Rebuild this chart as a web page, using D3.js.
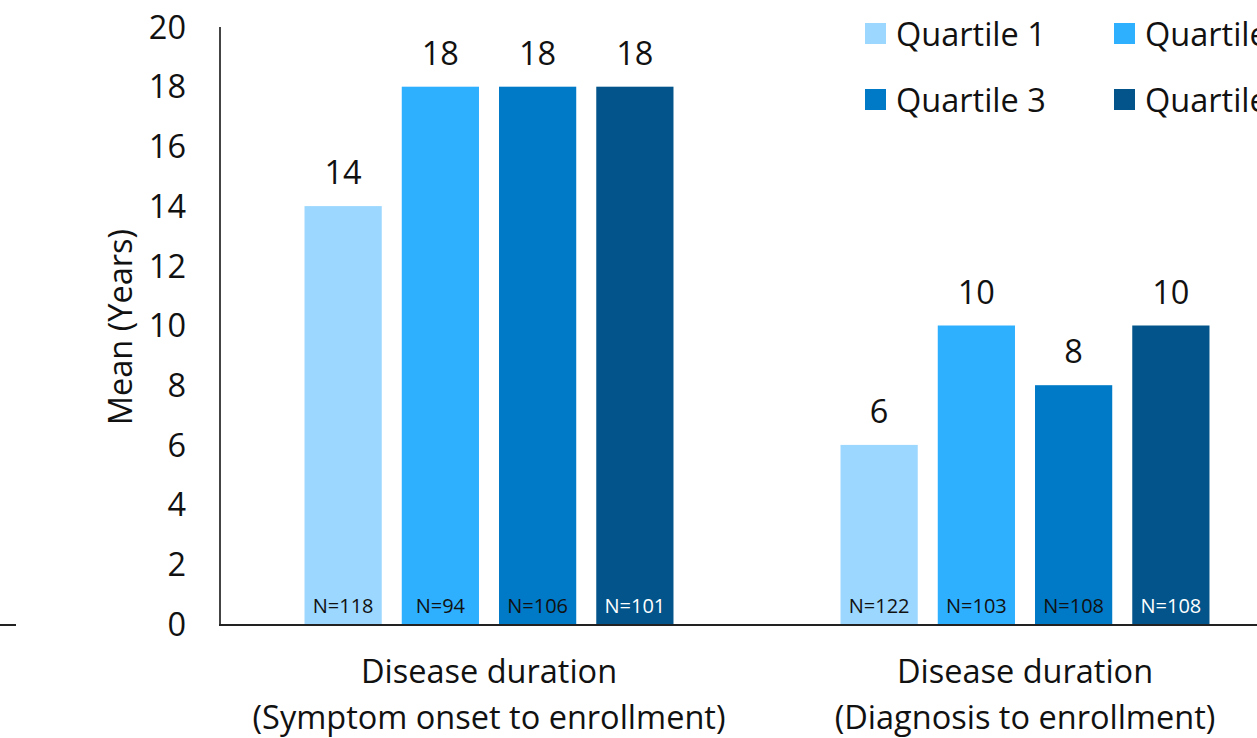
<!DOCTYPE html>
<html>
<head>
<meta charset="utf-8">
<script src="https://cdn.jsdelivr.net/npm/d3@7"></script>
<style>
  html, body { margin: 0; padding: 0; background: #fff; }
  svg { display: block; font-family: "Open Sans", sans-serif; font-variant-ligatures: none; }
</style>
</head>
<body>
<svg id="chart" width="1257" height="738"></svg>
<script>
// Mean disease duration by quartile
const categories = [
  ["Disease duration", "(Symptom onset to enrollment)"],
  ["Disease duration", "(Diagnosis to enrollment)"]
];
const series = ["Quartile 1", "Quartile 2", "Quartile 3", "Quartile 4"];
const symptomOnset = [14, 18, 18, 18];
const diagnosis = [6, 10, 8, 10];
const symptomOnsetN = [118, 94, 106, 101];
const diagnosisN = [122, 103, 108, 108];
const yTicks = [0, 2, 4, 6, 8, 10, 12, 14, 16, 18, 20];
const colors = ["#9BD7FE", "#2EB0FF", "#0079C6", "#02548A"];
const nTextColors = ["#111", "#111", "#111", "#fff"];

const values = [symptomOnset, diagnosis];
const counts = [symptomOnsetN, diagnosisN];

const svg = d3.select("#chart");
const plot = { left: 221, right: 1293, top: 27, bottom: 624 };
const fs = 32.5;

const x0 = d3.scaleBand()
  .domain(d3.range(categories.length))
  .range([plot.left, plot.right]);

const x1 = d3.scaleBand()
  .domain(series)
  .range([0, 389])
  .paddingInner(0.206)
  .paddingOuter(0.103);

const y = d3.scaleLinear().domain([0, 20]).range([plot.bottom, plot.top]);

// y tick labels
svg.append("g")
  .selectAll("text")
  .data(yTicks)
  .join("text")
  .attr("x", 186)
  .attr("y", d => y(d))
  .attr("dy", "0.36em")
  .attr("text-anchor", "end")
  .attr("font-size", fs)
  .attr("fill", "#111")
  .text(d => d);

// y axis title
svg.append("text")
  .attr("transform", "translate(132, 327) rotate(-90)")
  .attr("text-anchor", "middle")
  .attr("font-size", fs)
  .attr("fill", "#111")
  .text("Mean (Years)");

// bars
const groups = svg.append("g")
  .selectAll("g")
  .data(values.map((v, i) => ({ v, n: counts[i], i })))
  .join("g")
  .attr("transform", d => `translate(${x0(d.i) + x0.bandwidth() / 2 - 194.5},0)`);

const rows = d => d.v.map((val, k) => ({ val, n: d.n[k], k, s: series[k] }));

groups.selectAll("rect")
  .data(rows)
  .join("rect")
  .attr("x", d => x1(d.s))
  .attr("width", x1.bandwidth())
  .attr("y", d => y(d.val))
  .attr("height", d => y(0) - y(d.val))
  .attr("fill", d => colors[d.k]);

groups.selectAll("text.val")
  .data(rows)
  .join("text")
  .attr("class", "val")
  .attr("x", d => x1(d.s) + x1.bandwidth() / 2)
  .attr("y", d => y(d.val) - 22)
  .attr("text-anchor", "middle")
  .attr("font-size", fs)
  .attr("fill", "#111")
  .text(d => d.val);

groups.selectAll("text.n")
  .data(rows)
  .join("text")
  .attr("class", "n")
  .attr("x", d => x1(d.s) + x1.bandwidth() / 2)
  .attr("y", plot.bottom - 11)
  .attr("text-anchor", "middle")
  .attr("font-size", 20)
  .attr("fill", d => nTextColors[d.k])
  .text(d => "N=" + d.n);

// axes lines
svg.append("line")
  .attr("x1", plot.left - 1).attr("x2", plot.left - 1)
  .attr("y1", plot.top).attr("y2", plot.bottom)
  .attr("stroke", "#444").attr("stroke-width", 2);
svg.append("line")
  .attr("x1", plot.left - 2).attr("x2", plot.right)
  .attr("y1", plot.bottom + 1).attr("y2", plot.bottom + 1)
  .attr("stroke", "#222").attr("stroke-width", 2);
svg.append("line")
  .attr("x1", 0).attr("x2", 16)
  .attr("y1", plot.bottom + 1).attr("y2", plot.bottom + 1)
  .attr("stroke", "#222").attr("stroke-width", 2);

// category labels
const cat = svg.append("g")
  .selectAll("text")
  .data(categories)
  .join("text")
  .attr("text-anchor", "middle")
  .attr("font-size", fs)
  .attr("fill", "#111");
cat.selectAll("tspan")
  .data((d, i) => d.map(t => ({ t, i })))
  .join("tspan")
  .attr("x", d => x0(d.i) + x0.bandwidth() / 2)
  .attr("y", (d, j) => 683 + j * 46)
  .text(d => d.t);

// legend
const legend = svg.append("g")
  .selectAll("g")
  .data(series)
  .join("g")
  .attr("transform", (d, i) => `translate(${865 + (i % 2) * 249},${34 + Math.floor(i / 2) * 66})`);
legend.append("rect")
  .attr("x", 0).attr("y", -11)
  .attr("width", 21).attr("height", 21)
  .attr("fill", (d, i) => colors[i]);
legend.append("text")
  .attr("x", 31).attr("y", 0)
  .attr("dy", "0.36em")
  .attr("font-size", fs)
  .attr("fill", "#111")
  .text(d => d);
</script>
</body>
</html>
